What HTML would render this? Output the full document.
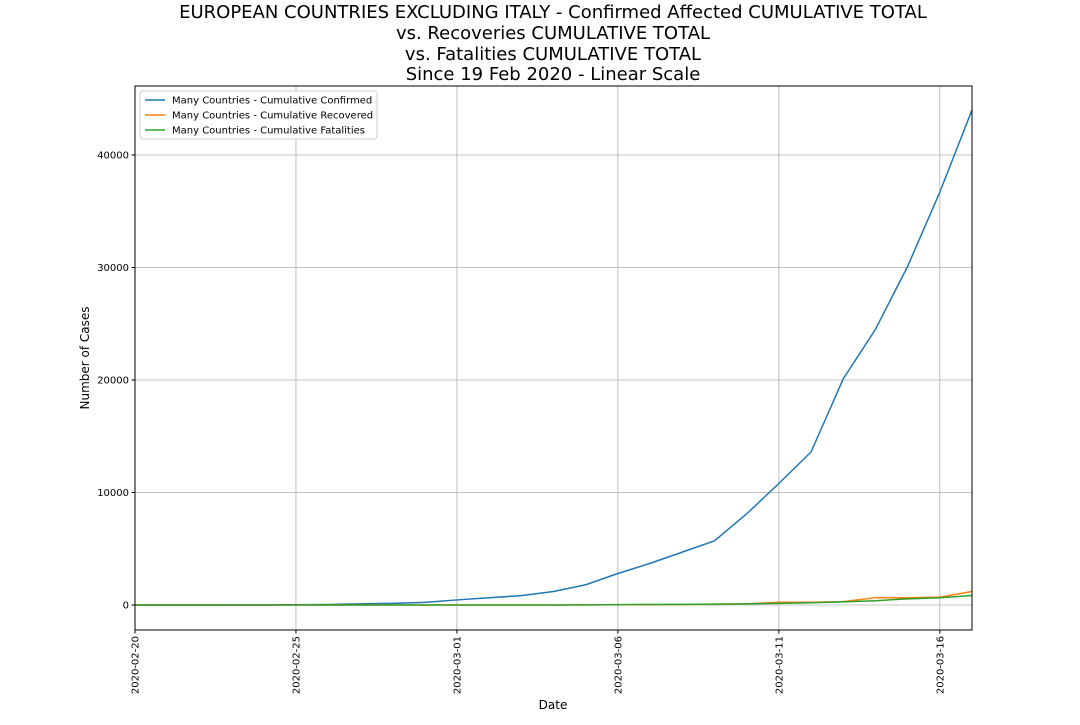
<!DOCTYPE html>
<html><head><meta charset="utf-8"><style>
body{margin:0;background:#fff;font-family:"Liberation Sans","DejaVu Sans",sans-serif;}
svg text{font-family:"DejaVu Sans","Liberation Sans",sans-serif;}
</style></head><body>
<svg id="chart" width="1080" height="720">
<g font-size="18" text-anchor="middle" fill="#000">
<text x="553" y="18">EUROPEAN COUNTRIES EXCLUDING ITALY - Confirmed Affected CUMULATIVE TOTAL</text>
<text x="553" y="39">vs. Recoveries CUMULATIVE TOTAL</text>
<text x="553" y="60">vs. Fatalities CUMULATIVE TOTAL</text>
<text x="553" y="80">Since 19 Feb 2020 - Linear Scale</text>
</g>
<g id="grid"></g><g id="axes"></g><g id="series"></g>
<rect x="135" y="86" width="837" height="544" fill="none" stroke="#000" stroke-width="1"/>
<text x="553" y="709" font-size="12" text-anchor="middle">Date</text>
<text transform="translate(89,358) rotate(-90)" font-size="12" text-anchor="middle">Number of Cases</text>
<g>
<rect x="140" y="91" width="237" height="48" fill="#fff" stroke="#ccc" rx="3"/>
<line x1="145" y1="100" x2="165" y2="100" stroke="#1f77b4" stroke-width="1.5"/>
<text x="172" y="103.5" font-size="10">Many Countries - Cumulative Confirmed</text>
<line x1="145" y1="115" x2="165" y2="115" stroke="#ff7f0e" stroke-width="1.5"/>
<text x="172" y="118.5" font-size="10">Many Countries - Cumulative Recovered</text>
<line x1="145" y1="130" x2="165" y2="130" stroke="#2ca02c" stroke-width="1.5"/>
<text x="172" y="133.5" font-size="10">Many Countries - Cumulative Fatalities</text>
</g>
</svg>
<script>
const dates=["2020-02-20","2020-02-21","2020-02-22","2020-02-23","2020-02-24","2020-02-25","2020-02-26","2020-02-27","2020-02-28","2020-02-29","2020-03-01","2020-03-02","2020-03-03","2020-03-04","2020-03-05","2020-03-06","2020-03-07","2020-03-08","2020-03-09","2020-03-10","2020-03-11","2020-03-12","2020-03-13","2020-03-14","2020-03-15","2020-03-16","2020-03-17"];
const confirmed=[0,0,5,10,15,25,50,100,150,230,450,650,830,1200,1800,2800,3700,4700,5700,8100,10800,13600,20100,24500,30100,36700,44000];
const recovered=[0,0,0,0,0,0,0,0,0,0,0,0,0,5,10,20,30,50,70,100,250,250,300,650,650,700,1200];
const fatalities=[0,0,0,0,0,0,0,0,0,0,0,0,0,5,10,30,50,60,80,100,150,200,280,380,550,650,850];
const xTickLabels=["2020-02-20","2020-02-25","2020-03-01","2020-03-06","2020-03-11","2020-03-16"];
const yTicks=[0,10000,20000,30000,40000];
const NS="http://www.w3.org/2000/svg";
const x0=135,x1=972,yTop=86,yBot=630,yMin=-2222,yMax=46133;
const xs=i=>x0+(x1-x0)*i/(dates.length-1);
const ys=v=>yBot-(v-yMin)/(yMax-yMin)*(yBot-yTop);
const grid=document.getElementById('grid'),axes=document.getElementById('axes'),ser=document.getElementById('series');
function mk(t,a,p){const e=document.createElementNS(NS,t);for(const k in a)e.setAttribute(k,a[k]);p.appendChild(e);return e;}
yTicks.forEach(v=>{const y=ys(v);
const g=mk('line',{x1:x0,x2:x1,y1:y,y2:y,stroke:'#b0b0b0','stroke-width':0.8},grid);


mk('line',{x1:x0-3.5,x2:x0,y1:y,y2:y,stroke:'#000'},axes);
const t=mk('text',{x:x0-6,y:y+3.5,'font-size':10,'text-anchor':'end'},axes);t.textContent=v;

});
xTickLabels.forEach(l=>{const i=dates.indexOf(l),x=xs(i);
const g=mk('line',{x1:x,x2:x,y1:yTop,y2:yBot,stroke:'#b0b0b0','stroke-width':0.8},grid);


mk('line',{x1:x,x2:x,y1:yBot,y2:yBot+3.5,stroke:'#000'},axes);
const t=mk('text',{transform:`translate(${x+3.5},${yBot+6}) rotate(-90)`,'font-size':10,'text-anchor':'end'},axes);t.textContent=l;

});
[[confirmed,'#1f77b4','confirmed-line'],[recovered,'#ff7f0e','recovered-line'],[fatalities,'#2ca02c','fatalities-line']].forEach(([d,c,n])=>{
const p=mk('polyline',{points:d.map((v,i)=>xs(i)+','+ys(v)).join(' '),fill:'none',stroke:c,'stroke-width':1.5},ser);

});
</script>
</body></html>
